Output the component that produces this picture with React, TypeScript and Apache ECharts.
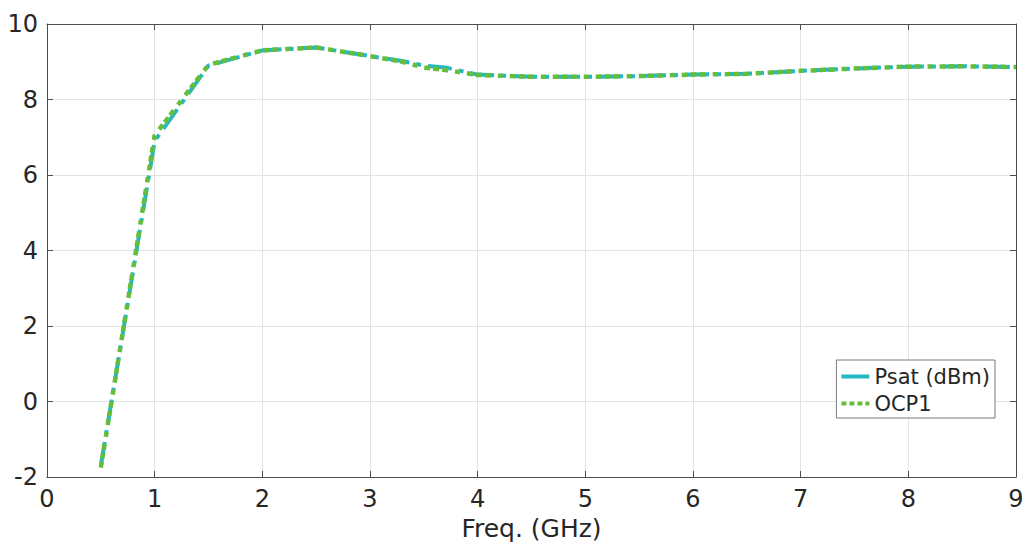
import React, { useEffect, useRef } from "react";
import * as echarts from "echarts";

// Frequency sweep (GHz)
const freqGHz = [0.5, 1.0, 1.5, 2.0, 2.5, 3.0, 3.3, 3.5, 3.7, 4.0, 4.5, 5.0, 5.5, 6.0, 6.5, 7.0, 7.5, 8.0, 8.5, 9.0];
// Saturated output power (dBm)
const psat = [-1.7, 6.9, 8.9, 9.3, 9.38, 9.15, 9.02, 8.9, 8.85, 8.66, 8.6, 8.6, 8.62, 8.66, 8.68, 8.76, 8.82, 8.87, 8.88, 8.86];
// Output 1 dB compression point (dBm)
const ocp1 = [-1.75, 7.05, 8.92, 9.3, 9.38, 9.15, 9.0, 8.85, 8.78, 8.65, 8.6, 8.6, 8.62, 8.66, 8.68, 8.76, 8.82, 8.87, 8.88, 8.86];

const seriesNames = ["Psat (dBm)", "OCP1"];
const xTitle = "Freq. (GHz)";

const FONT = "DejaVu Sans";
const TEXT = "#262626";
const AXIS = "#4d4d4d";
const GRID = "#e3e3e3";
const CYAN = "#22b8c4";
const GREEN = "#66bd3a";

export default function App() {
  const ref = useRef<HTMLDivElement>(null);

  useEffect(() => {
    if (!ref.current) return;
    const chart = echarts.init(ref.current, undefined, { renderer: "svg" });

    const pairs = (ys: number[]) => freqGHz.map((x, i) => [x, ys[i]]);

    const boxAxis = {
      axisLabel: { show: false },
      splitLine: { show: false },
      axisLine: { show: true, onZero: false, lineStyle: { color: AXIS, width: 1 } },
      axisTick: { show: true, inside: true, length: 6, lineStyle: { color: AXIS } },
    };

    chart.setOption({
      animation: false,
      backgroundColor: "#ffffff",
      grid: { left: 47, right: 9, top: 24, bottom: 65, containLabel: false, outerBoundsMode: "none" },
      xAxis: [
        {
          type: "value",
          min: 0,
          max: 9,
          interval: 1,
          position: "bottom",
          name: xTitle,
          nameLocation: "middle",
          nameGap: 39,
          nameTextStyle: { fontFamily: FONT, fontSize: 25, color: TEXT },
          axisLine: { show: true, onZero: false, lineStyle: { color: AXIS, width: 1 } },
          axisTick: { show: true, inside: true, length: 6, lineStyle: { color: AXIS } },
          axisLabel: { fontFamily: FONT, fontSize: 24, color: TEXT, margin: 10 },
          splitLine: { show: true, lineStyle: { color: GRID, width: 1 } },
        },
        {
          type: "value",
          min: 0,
          max: 9,
          interval: 1,
          position: "top",
          ...boxAxis,
        },
      ],
      yAxis: [
        {
          type: "value",
          min: -2,
          max: 10,
          interval: 2,
          position: "left",
          axisLine: { show: true, onZero: false, lineStyle: { color: AXIS, width: 1 } },
          axisTick: { show: true, inside: true, length: 6, lineStyle: { color: AXIS } },
          axisLabel: { fontFamily: FONT, fontSize: 24, color: TEXT, margin: 9, padding: [3, 0, 0, 0] },
          splitLine: { show: true, lineStyle: { color: GRID, width: 1 } },
        },
        {
          type: "value",
          min: -2,
          max: 10,
          interval: 2,
          position: "right",
          ...boxAxis,
        },
      ],
      legend: {
        right: 30,
        top: 360,
        orient: "vertical",
        itemWidth: 28,
        itemHeight: 4,
        itemGap: 6,
        padding: [6, 5, 4, 3],
        backgroundColor: "#ffffff",
        borderColor: "#7a7a7a",
        borderWidth: 1,
        borderRadius: 0,
        textStyle: { fontFamily: FONT, fontSize: 21, color: TEXT },
        data: [
          { name: seriesNames[0], icon: "path://M0,0H28V4H0Z", itemStyle: { color: CYAN }, lineStyle: { type: "solid", color: CYAN, width: 4 } },
          { name: seriesNames[1], lineStyle: { type: [5, 3], color: GREEN, width: 4 }, itemStyle: { color: GREEN, opacity: 0 } },
        ],
      },
      series: [
        {
          name: seriesNames[0],
          type: "line",
          data: pairs(psat),
          symbol: "none",
          z: 2,
          lineStyle: { color: CYAN, width: 4, type: [24, 7, 5, 7] },
          itemStyle: { color: CYAN },
        },
        {
          name: seriesNames[1],
          type: "line",
          data: pairs(ocp1),
          symbol: "none",
          z: 3,
          lineStyle: { color: GREEN, width: 4.5, type: [6, 3, 6, 3, 6, 7, 5, 7] },
          itemStyle: { color: GREEN },
        },
      ],
    });

    return () => chart.dispose();
  }, []);

  return (
    <div
      ref={ref}
      style={{ position: "fixed", left: 0, top: 0, width: 1025, height: 542, background: "#fff" }}
    />
  );
}
